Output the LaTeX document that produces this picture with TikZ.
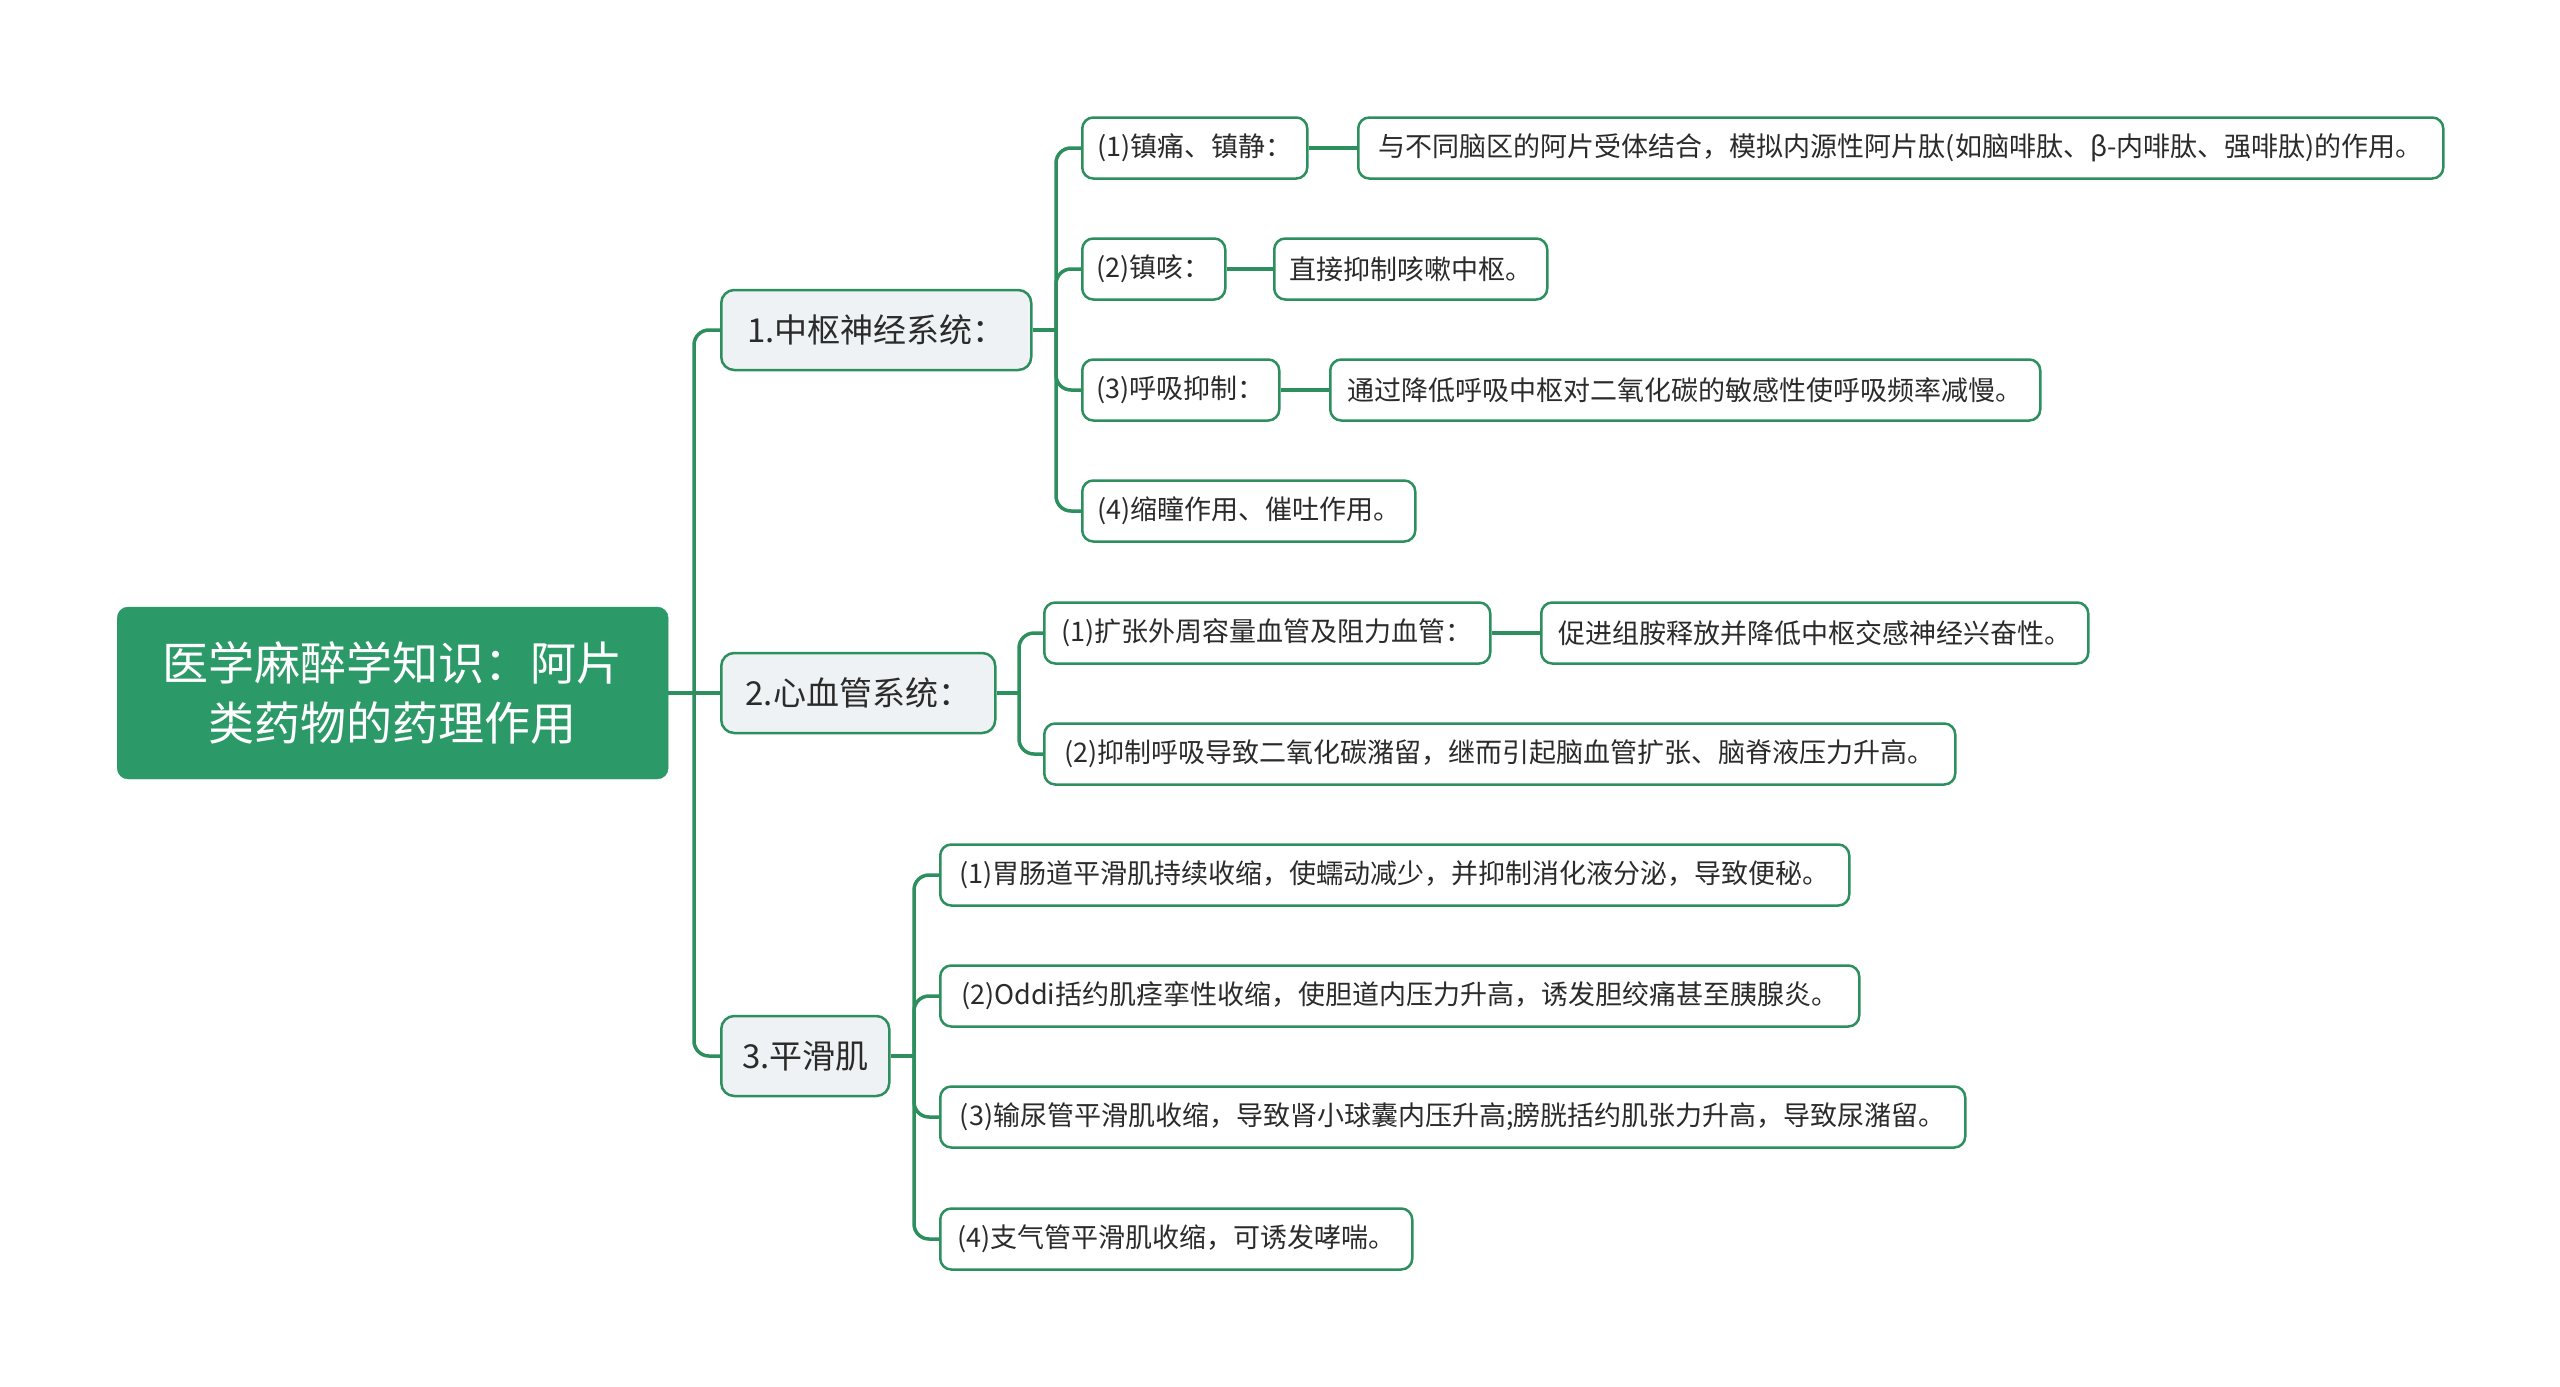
\documentclass[tikz,border=0pt]{standalone}
\usepackage{fontspec}
\setmainfont{Noto Sans CJK SC}
\definecolor{gline}{HTML}{2D8F5E}
\definecolor{groot}{HTML}{2C9A68}
\definecolor{lgray}{HTML}{EEF2F4}
\definecolor{txt}{HTML}{2B2B2B}
\begin{document}
\begin{tikzpicture}[x=1pt,y=-1pt,
 rootbox/.style={draw=groot, fill=groot, rounded corners=11pt, text=white,
   font=\fontsize{46}{60}\selectfont, align=center, minimum width=551pt,
   minimum height=172pt, anchor=west, inner sep=0pt},
 lonebox/.style={draw=gline, line width=2.5pt, fill=lgray, rounded corners=13pt,
   text=txt, font=\fontsize{33}{40}\selectfont, minimum height=80pt,
   anchor=west, inner xsep=6pt},
 ltwobox/.style={draw=gline, line width=2.5pt, fill=white, rounded corners=11pt,
   text=txt, font=\fontsize{27}{32}\selectfont, minimum height=61pt,
   anchor=west, inner xsep=6pt},
 conn/.style={draw=gline, line width=3.5pt},
 elbow/.style={conn, rounded corners=15pt},
]
\useasboundingbox (0,0) rectangle (2560,1387);

% root
\node[rootbox] (root) at (117,693) {医学麻醉学知识：阿片\\类药物的药理作用};

% level 1
\node[lonebox, minimum width=310pt] (cns) at (720,330) {1.中枢神经系统：};
\node[lonebox, minimum width=274pt] (cv) at (720,693) {2.心血管系统：};
\node[lonebox, minimum width=168pt] (sm) at (720,1056) {3.平滑肌};

% CNS children
\node[ltwobox, minimum width=225pt] (c1) at (1081,148) {(1)镇痛、镇静：};
\node[ltwobox, minimum width=143pt] (c2) at (1081,269) {(2)镇咳：};
\node[ltwobox, minimum width=197pt] (c3) at (1081,390) {(3)呼吸抑制：};
\node[ltwobox, minimum width=333pt] (c4) at (1081,511) {(4)缩瞳作用、催吐作用。};
\node[ltwobox, minimum width=1085pt] (c1a) at (1357,148) {与不同脑区的阿片受体结合，模拟内源性阿片肽(如脑啡肽、β-内啡肽、强啡肽)的作用。};
\node[ltwobox, minimum width=273pt] (c2a) at (1273,269) {直接抑制咳嗽中枢。};
\node[ltwobox, minimum width=710pt] (c3a) at (1329,390) {通过降低呼吸中枢对二氧化碳的敏感性使呼吸频率减慢。};

% CV children
\node[ltwobox, minimum width=446pt] (v1) at (1043,633) {(1)扩张外周容量血管及阻力血管：};
\node[ltwobox, minimum width=911pt] (v2) at (1043,754) {(2)抑制呼吸导致二氧化碳潴留，继而引起脑血管扩张、脑脊液压力升高。};
\node[ltwobox, minimum width=547pt] (v1a) at (1540,633) {促进组胺释放并降低中枢交感神经兴奋性。};

% SM children
\node[ltwobox, minimum width=909pt] (s1) at (939,875) {(1)胃肠道平滑肌持续收缩，使蠕动减少，并抑制消化液分泌，导致便秘。};
\node[ltwobox, minimum width=919pt] (s2) at (939,996) {(2)Oddi括约肌痉挛性收缩，使胆道内压力升高，诱发胆绞痛甚至胰腺炎。};
\node[ltwobox, minimum width=1025pt] (s3) at (939,1117) {(3)输尿管平滑肌收缩，导致肾小球囊内压升高;膀胱括约肌张力升高，导致尿潴留。};
\node[ltwobox, minimum width=472pt] (s4) at (939,1239) {(4)支气管平滑肌收缩，可诱发哮喘。};

% junctions
\coordinate (j0) at (694,693);
\coordinate (j1) at (1056,330);
\coordinate (j2) at (1019,693);
\coordinate (j3) at (914,1056);

% connectors
\draw[conn] (root.east) -- (j0);
\draw[elbow] (j0) |- (cns.west);
\draw[conn] (j0) -- (cv.west);
\draw[elbow] (j0) |- (sm.west);

\draw[conn] (cns.east) -- (j1);
\foreach \c in {c1,c2,c3,c4} {\draw[elbow] (j1) |- (\c.west);}
\draw[conn] (c1.east) -- (c1a.west);
\draw[conn] (c2.east) -- (c2a.west);
\draw[conn] (c3.east) -- (c3a.west);

\draw[conn] (cv.east) -- (j2);
\foreach \c in {v1,v2} {\draw[elbow] (j2) |- (\c.west);}
\draw[conn] (v1.east) -- (v1a.west);

\draw[conn] (sm.east) -- (j3);
\foreach \c in {s1,s2,s3,s4} {\draw[elbow] (j3) |- (\c.west);}
\end{tikzpicture}
\end{document}
